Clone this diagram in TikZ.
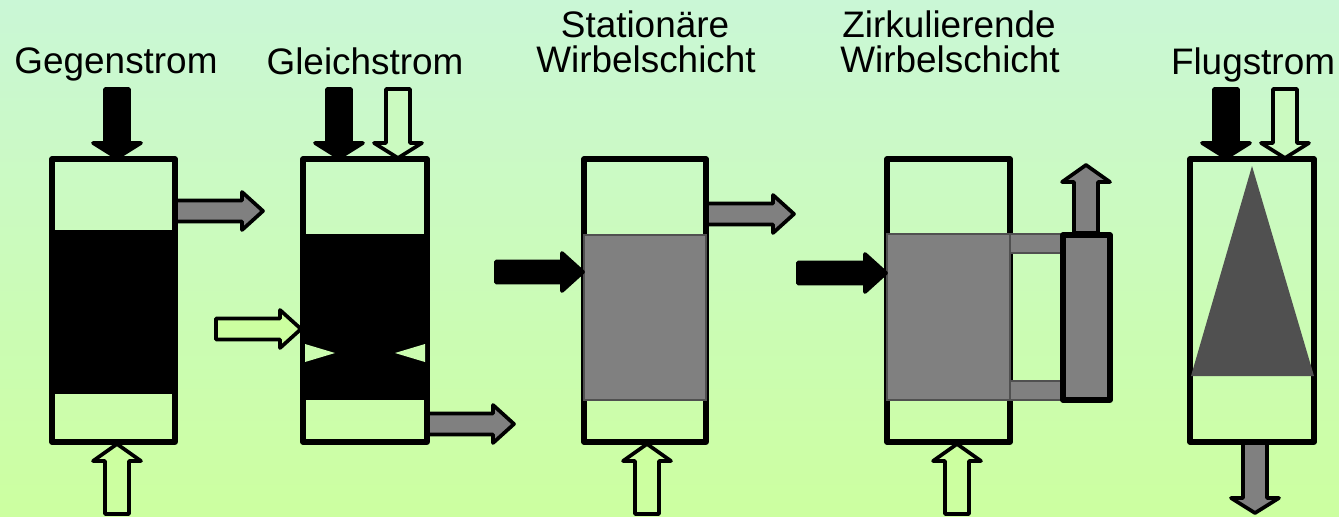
\documentclass[tikz,border=0pt]{standalone}
\usepackage{fontspec}
\setmainfont{Liberation Sans}
\definecolor{bgtop}{HTML}{CAF7D6}
\definecolor{bgbot}{HTML}{CCFFA0}
\definecolor{bedgray}{HTML}{808080}
\definecolor{flamegray}{HTML}{505050}
\tikzset{
  vessel/.style={draw=black, line width=2.9pt, line join=round},
  flowline/.style={draw=black, line width=2.1pt, line join=round},
  bed/.style={draw=flamegray, fill=bedgray, line width=0.6pt},
  title/.style={font=\fontsize{21}{25}\selectfont, inner sep=0pt, anchor=base},
}
% x, y0, y1, fill
\newcommand{\vflow}[4]{
  \pgfmathsetmacro{\hd}{#3>#2 ? #3-15 : #3+17}
  \draw[flowline, fill=#4] (#1-12,#2) -- (#1+12,#2) -- (#1+12,\hd) -- (#1+24,\hd) -- (#1,#3) -- (#1-24,\hd) -- (#1-12,\hd) -- cycle;
}
% x0, x1, y, fill
\newcommand{\hflow}[4]{
  \pgfmathsetmacro{\hd}{#2-21}
  \draw[flowline, fill=#4] (#1,#3-10.5) -- (\hd,#3-10.5) -- (\hd,#3-19) -- (#2,#3) -- (\hd,#3+19) -- (\hd,#3+10.5) -- (#1,#3+10.5) -- cycle;
}
\begin{document}
\begin{tikzpicture}[x=0.02cm, y=-0.02cm]
    \shade[top color=bgtop, bottom color=bgbot] (0,0) rectangle (1339,517);
    \useasboundingbox (0,0) rectangle (1339,517);
    % titles
    \node[title] (gegen) at (116,74) {Gegenstrom};
    \node[title] (gleich) at (365,75) {Gleichstrom};
    \node[title] (stat) at (645,38) {Stationäre};
    \node[title] (statw) at (646,73) {Wirbelschicht};
    \node[title] (zirk) at (949,38) {Zirkulierende};
    \node[title] (zirkw) at (950,73) {Wirbelschicht};
    \node[title] (flug) at (1253,75) {Flugstrom};
    % Gegenstrom
    \hflow{175}{263}{211}{bedgray}
    \vflow{117}{89}{158}{black}
    \vflow{117}{514}{444}{bgbot}
    \fill[black] (52,230) rectangle (175,394);
    \draw[vessel] (52,159) rectangle (175,442);
    % Gleichstrom
    \hflow{426}{514}{424}{bedgray}
    \vflow{339}{89}{158}{black}
    \vflow{398}{89}{158}{bgtop!60!bgbot}
    \fill[black] (303,234) rectangle (427,400);
    \draw[vessel] (303,159) rectangle (427,442);
    \fill[bgbot!70!bgtop] (305,344) -- (335,353) -- (305,362) -- cycle;
    \fill[bgbot!70!bgtop] (425,344) -- (395,353) -- (425,362) -- cycle;
    \hflow{216}{301}{329}{bgbot}
    % Stationaere Wirbelschicht
    \hflow{706}{794}{214}{bedgray}
    \vflow{647}{514}{444}{bgbot}
    \draw[vessel] (584,159) rectangle (706,442);
    \draw[bed] (584,235) rectangle (706,400);
    \hflow{496}{583}{272}{black}
    % Zirkulierende Wirbelschicht
    \vflow{957}{514}{444}{bgbot}
    \draw[vessel] (887,159) rectangle (1010,442);
    \draw[bed] (1010,234) rectangle (1063,253);
    \draw[bed] (1010,381) rectangle (1063,400);
    \draw[bed] (887,234) rectangle (1010,400);
    \vflow{1086}{233}{165}{bedgray}
    \draw[vessel, fill=bedgray] (1063,235) rectangle (1110,400);
    \hflow{798}{886}{273}{black}
    % Flugstrom
    \vflow{1255}{443}{513}{bedgray}
    \vflow{1226}{89}{158}{black}
    \vflow{1285}{89}{158}{bgtop!60!bgbot}
    \draw[vessel] (1190,159) rectangle (1314,442);
    \fill[flamegray] (1252,166) -- (1314,376) -- (1191,376) -- cycle;
\end{tikzpicture}
\end{document}
